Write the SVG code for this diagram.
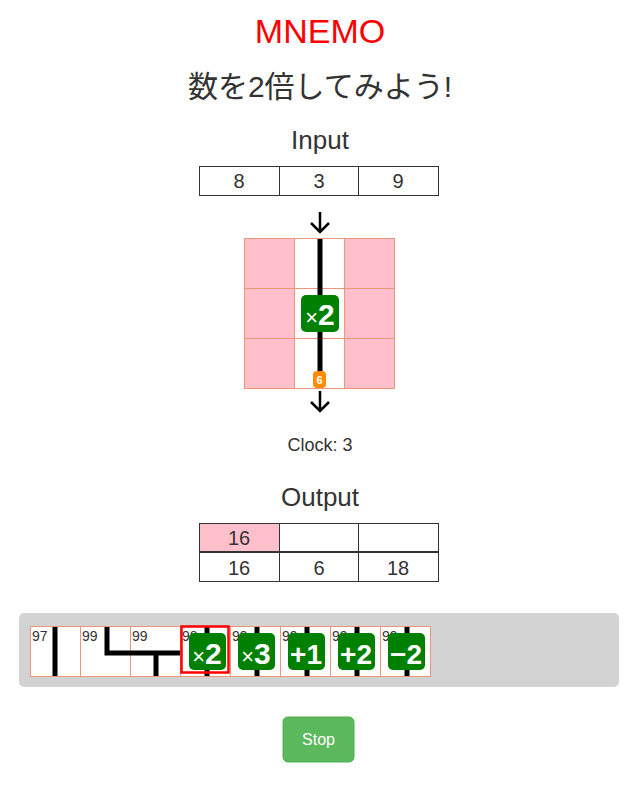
<svg xmlns="http://www.w3.org/2000/svg" width="640" height="793" viewBox="0 0 640 793">
<style>
text{font-family:"Liberation Sans",Arial,"Noto Sans CJK JP",sans-serif;fill:#333}
.c{fill:#fff;stroke:#333;stroke-width:1}
.g{fill:#fff;stroke:#e9967a;stroke-width:1}
.p{fill:#ffc0cb;stroke:#e9967a;stroke-width:1}
.w{stroke:#000;stroke-width:5;fill:none}
.b{fill:#008000}
.bt{fill:#fff;font-weight:bold;text-anchor:middle}
.n{font-size:14px;fill:#333}
.m{text-anchor:middle}
</style>
<text x="320" y="43" class="m" font-size="34" style="fill:#ff0000">MNEMO</text>
<text x="320" y="97" class="m" font-size="30">数を2倍してみよう!</text>
<text x="320" y="149" class="m" font-size="26">Input</text>
<g id="input">
<rect class="c" x="199.5" y="166.5" width="80" height="29"/><rect class="c" x="279.5" y="166.5" width="79" height="29"/><rect class="c" x="358.5" y="166.5" width="80" height="29"/>
<text x="239" y="188" class="m" font-size="20">8</text><text x="319" y="188" class="m" font-size="20">3</text><text x="398" y="188" class="m" font-size="20">9</text>
</g>
<g id="board">
<rect class="p" x="244.5" y="238.5" width="50" height="50"/><rect class="g" x="294.5" y="238.5" width="50" height="50"/><rect class="p" x="344.5" y="238.5" width="50" height="50"/>
<rect class="p" x="244.5" y="288.5" width="50" height="50"/><rect class="g" x="294.5" y="288.5" width="50" height="50"/><rect class="p" x="344.5" y="288.5" width="50" height="50"/>
<rect class="p" x="244.5" y="338.5" width="50" height="50"/><rect class="g" x="294.5" y="338.5" width="50" height="50"/><rect class="p" x="344.5" y="338.5" width="50" height="50"/>
<line class="w" x1="320" y1="239" x2="320" y2="388"/>
<rect class="b" x="301" y="295" width="38" height="37" rx="5"/>
<text x="320" y="325" class="bt" font-size="30"><tspan font-size="22" font-weight="normal">×</tspan>2</text>
<rect x="313" y="371" width="13" height="17" rx="4" fill="#ff8c00"/>
<text x="319.5" y="384" class="bt" font-size="11">6</text>
</g>
<g id="connectors" stroke="#000" stroke-width="2.5" fill="none">
<path d="M320 212V232M311 223L320 232L329 223"/>
<path d="M320 391V411M311 402L320 411L329 402"/>
</g>
<text x="320" y="451" class="m" font-size="18">Clock: 3</text>
<text x="320" y="506" class="m" font-size="26">Output</text>
<g id="output">
<rect x="199.5" y="523.5" width="80" height="28" fill="#ffc0cb" stroke="#333"/><rect class="c" x="279.5" y="523.5" width="79" height="28"/><rect class="c" x="358.5" y="523.5" width="80" height="28"/>
<text x="239" y="545" class="m" font-size="20">16</text>
<rect class="c" x="199.5" y="552.5" width="80" height="29"/><rect class="c" x="279.5" y="552.5" width="79" height="29"/><rect class="c" x="358.5" y="552.5" width="80" height="29"/>
<text x="239" y="575" class="m" font-size="20">16</text><text x="319" y="575" class="m" font-size="20">6</text><text x="398" y="575" class="m" font-size="20">18</text>
</g>
<g id="palette">
<rect x="19" y="613" width="600" height="74" rx="5" fill="#d3d3d3"/>
<rect class="g" x="30.5" y="626.5" width="50" height="50"/><line class="w" x1="55" y1="627" x2="55" y2="676"/><text x="32" y="641" class="n">97</text>
<rect class="g" x="80.5" y="626.5" width="50" height="50"/><path class="w" d="M107 627V653H130"/><text x="82" y="641" class="n">99</text>
<rect class="g" x="130.5" y="626.5" width="50" height="50"/><path class="w" d="M130 653H180M156 653V676"/><text x="132" y="641" class="n">99</text>
<rect class="g" x="180.5" y="626.5" width="50" height="50"/><line class="w" x1="207" y1="627" x2="207" y2="676"/><text x="182" y="641" class="n">98</text>
<rect class="b" x="189" y="633" width="37" height="37" rx="5"/><text x="207" y="664" class="bt" font-size="30"><tspan font-size="22" font-weight="normal">×</tspan>2</text>
<rect x="181.5" y="626.5" width="47" height="46" fill="none" stroke="#ff0000" stroke-width="2.5"/>
<rect class="g" x="230.5" y="626.5" width="50" height="50"/><line class="w" x1="257" y1="627" x2="257" y2="676"/><text x="232" y="641" class="n">99</text>
<rect class="b" x="238" y="633" width="37" height="37" rx="5"/><text x="256" y="664" class="bt" font-size="30"><tspan font-size="22" font-weight="normal">×</tspan>3</text>
<rect class="g" x="280.5" y="626.5" width="50" height="50"/><line class="w" x1="307" y1="627" x2="307" y2="676"/><text x="282" y="641" class="n">99</text>
<rect class="b" x="288" y="633" width="37" height="37" rx="5"/><text x="306" y="664" class="bt" font-size="28">+1</text>
<rect class="g" x="330.5" y="626.5" width="50" height="50"/><line class="w" x1="357" y1="627" x2="357" y2="676"/><text x="332" y="641" class="n">99</text>
<rect class="b" x="338" y="633" width="37" height="37" rx="5"/><text x="356" y="664" class="bt" font-size="28">+2</text>
<rect class="g" x="380.5" y="626.5" width="50" height="50"/><line class="w" x1="407" y1="627" x2="407" y2="676"/><text x="382" y="641" class="n">99</text>
<rect class="b" x="388" y="633" width="37" height="37" rx="5"/><text x="406" y="664" class="bt" font-size="28">−2</text>
</g>
<g id="stop">
<rect x="283" y="717" width="71" height="45" rx="5" fill="#5cb85c" stroke="#4cae4c"/>
<text x="318.5" y="745" class="m" font-size="16" style="fill:#fff">Stop</text>
</g>
</svg>
